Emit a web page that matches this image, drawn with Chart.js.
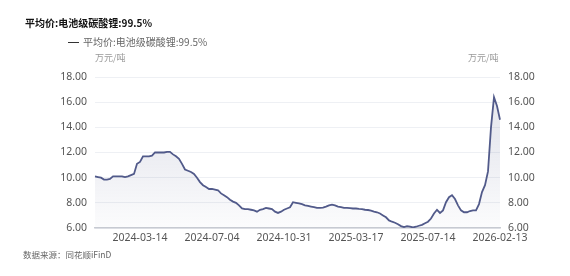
<!DOCTYPE html>
<html>
<head>
<meta charset="utf-8">
<script src="https://cdn.jsdelivr.net/npm/chart.js@4.4.1/dist/chart.umd.min.js"></script>
<style>
    body { margin: 0; background: #fff; font-family: "Noto Sans CJK SC", "Noto Sans", sans-serif; }
    #wrap { position: relative; width: 570px; height: 276px; }
    #wrap canvas { position: absolute; left: 0; top: 0; }
    .txt { position: absolute; white-space: nowrap; line-height: 1; }
    #title { left: 25px; top: 18px; font-size: 10px; font-weight: bold; color: #111; }
    #legend { left: 68px; top: 37px; font-size: 10px; color: #666; }
    #legend span.ln { display: inline-block; width: 11px; height: 1.5px; background: #333; vertical-align: middle; margin-right: 4px; position: relative; top: -1px; }
    .unit { top: 53px; font-size: 9px; color: #999; }
    #unit-l { left: 95px; }
    #unit-r { left: 468px; }
    #source { left: 23px; top: 250px; font-size: 8.5px; color: #666; }
</style>
</head>
<body>
<div id="wrap">
    <canvas id="chart" width="570" height="276"></canvas>
    <div class="txt" id="title">平均价:电池级碳酸锂:99.5%</div>
    <div class="txt" id="legend"><span class="ln"></span>平均价:电池级碳酸锂:99.5%</div>
    <div class="txt unit" id="unit-l">万元/吨</div>
    <div class="txt unit" id="unit-r">万元/吨</div>
    <div class="txt" id="source">数据来源：同花顺iFinD</div>
</div>
<script>
const seriesName = "平均价:电池级碳酸锂:99.5%";

// x labels shown on the axis and the point index they sit at
const tickLabels = ["2024-03-14", "2024-07-04", "2024-10-31", "2025-03-17", "2025-07-14", "2026-02-13"];
const tickIndex = [15, 39, 63, 87, 111, 135];

// price, 万元/吨
const prices = [
    10.1, 10.05, 10.0, 9.85, 9.85, 9.9, 10.1, 10.1, 10.1, 10.1,
    10.05, 10.1, 10.2, 10.3, 11.1, 11.25, 11.7, 11.7, 11.7, 11.75,
    12.0, 12.0, 12.0, 12.0, 12.05, 12.05, 11.85, 11.7, 11.5, 11.1,
    10.65, 10.55, 10.45, 10.3, 10.0, 9.65, 9.4, 9.25, 9.1, 9.1,
    9.05, 9.0, 8.75, 8.6, 8.45, 8.25, 8.1, 8.0, 7.8, 7.55,
    7.5, 7.5, 7.45, 7.4, 7.3, 7.45, 7.5, 7.6, 7.55, 7.5,
    7.3, 7.2, 7.3, 7.45, 7.55, 7.65, 8.05, 8.0, 7.95, 7.9,
    7.8, 7.75, 7.7, 7.65, 7.6, 7.6, 7.62, 7.7, 7.8, 7.85,
    7.8, 7.7, 7.65, 7.6, 7.6, 7.58, 7.55, 7.55, 7.52, 7.5,
    7.45, 7.43, 7.38, 7.3, 7.25, 7.15, 7.0, 6.85, 6.6, 6.5,
    6.42, 6.3, 6.15, 6.08, 6.15, 6.1, 6.05, 6.1, 6.18, 6.25,
    6.38, 6.5, 6.75, 7.15, 7.45, 7.2, 7.4, 8.05, 8.45, 8.6,
    8.3, 7.8, 7.4, 7.25, 7.25, 7.35, 7.4, 7.4, 7.9, 8.85,
    9.4, 10.5, 14.0, 16.4, 15.7, 14.6
];

const yTicks = [6, 8, 10, 12, 14, 16, 18];

const colors = {
    line: "#515a8a",
    grid: "#eef0f4",
    axis: "#c9ccd3",
    tick: "#555",
};

const labels = prices.map(() => "");
tickIndex.forEach((idx, i) => { labels[idx] = tickLabels[i]; });

function fillGradient(ctx) {
    const area = ctx.chart.chartArea;
    if (!area) return "rgba(81,90,138,0.08)";
    const g = ctx.chart.ctx.createLinearGradient(0, area.top + 60, 0, area.bottom);
    g.addColorStop(0, "rgba(81,90,138,0.13)");
    g.addColorStop(1, "rgba(81,90,138,0.02)");
    return g;
}

const tickFont = { family: "'Noto Sans', 'Noto Sans CJK SC', sans-serif", size: 10.5 };

const yAxis = (pos) => ({
    position: pos,
    min: 6,
    max: 18,
    afterBuildTicks: (scale) => { scale.ticks = yTicks.map(v => ({ value: v })); },
    afterFit: (scale) => { scale.width = 40; },
    border: { display: false },
    grid: { display: pos === "left", color: colors.grid, drawTicks: false },
    ticks: {
        padding: 8,
        color: colors.tick,
        font: tickFont,
        callback: (v) => Number(v).toFixed(2),
    },
});

new Chart(document.getElementById("chart"), {
    type: "line",
    data: {
        labels: labels,
        datasets: [{
            label: seriesName,
            data: prices,
            borderColor: colors.line,
            borderWidth: 1.8,
            backgroundColor: fillGradient,
            fill: "start",
            tension: 0,
            pointRadius: 0,
            yAxisID: "y",
        }]
    },
    options: {
        responsive: false,
        animation: false,
        layout: { padding: { left: 55, right: 30, top: 77, bottom: 28 } },
        plugins: {
            legend: { display: false },
            tooltip: { enabled: false },
        },
        scales: {
            x: {
                afterFit: (scale) => { scale.height = 20; },
                border: { display: true, color: colors.axis, width: 1.5 },
                grid: { display: false, drawTicks: false },
                ticks: {
                    autoSkip: false,
                    maxRotation: 0,
                    minRotation: 0,
                    padding: 4,
                    color: colors.tick,
                    font: tickFont,
                    callback: (v, i) => labels[i] || null,
                },
            },
            y: yAxis("left"),
            y2: yAxis("right"),
        },
    },
});
</script>
</body>
</html>
